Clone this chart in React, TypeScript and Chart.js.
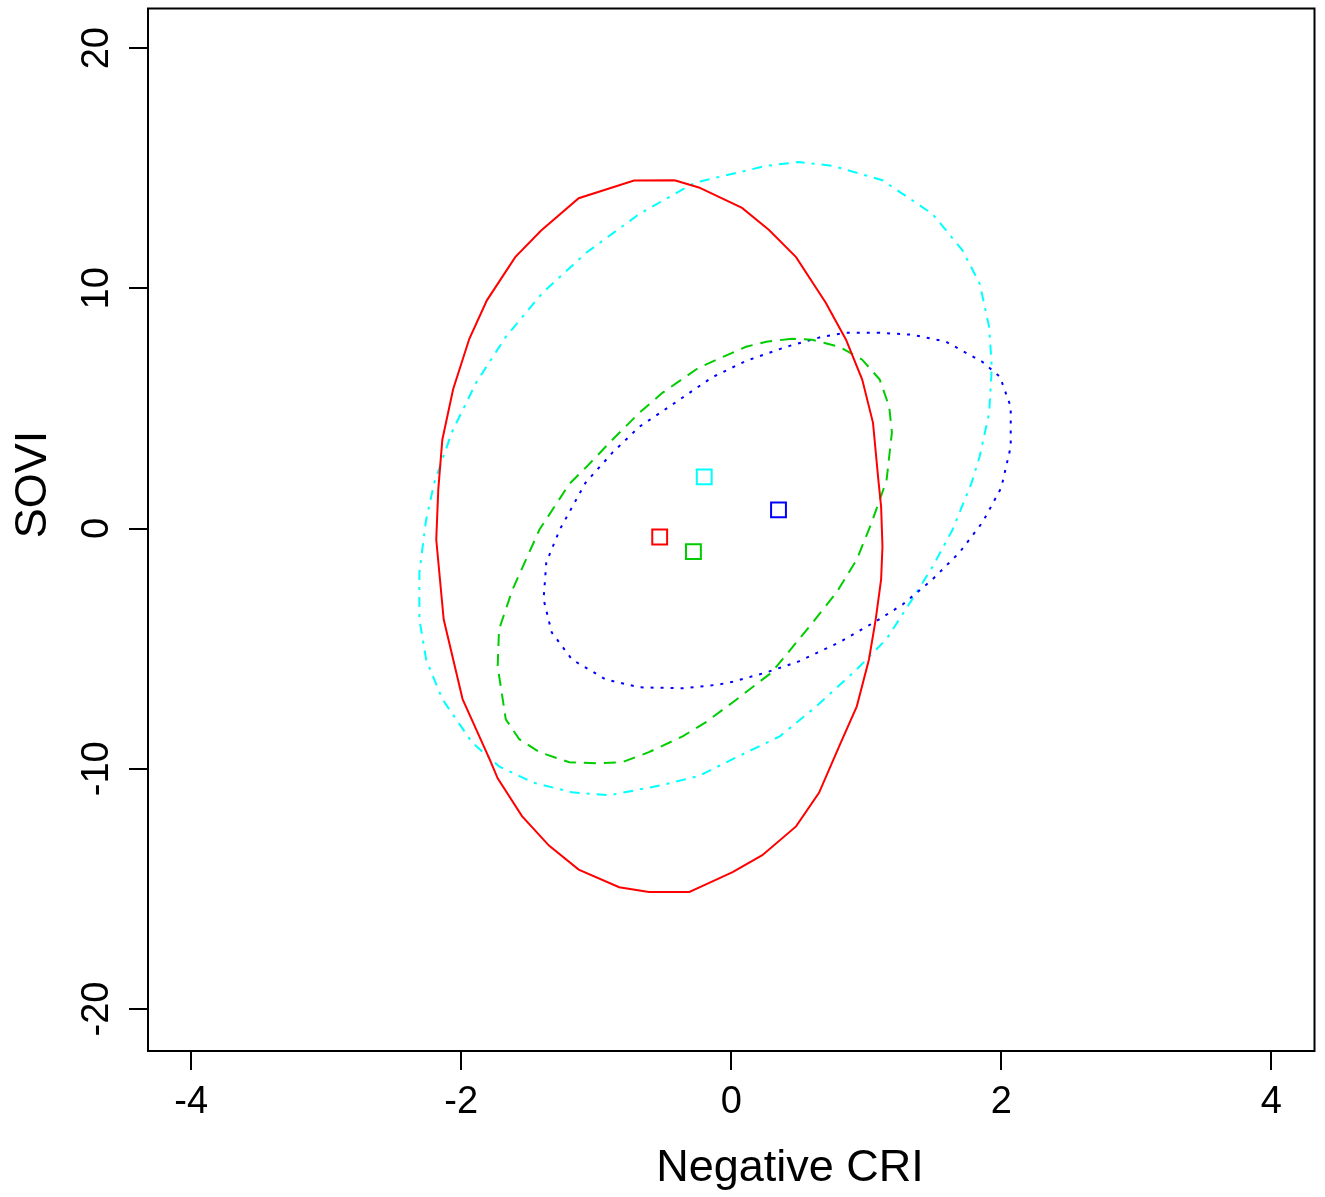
import React, { useEffect, useRef } from "react";
import { Chart, registerables } from "chart.js";

Chart.register(...registerables);

// ---- axis data ----
const xTicks = [-4, -2, 0, 2, 4];
const yTicks = [-20, -10, 0, 10, 20];
const xRange = [-4.32, 4.32];
const yRange = [-21.75, 21.65];
const xTitle = "Negative CRI";
const yTitle = "SOVI";

// ---- ellipse outlines (x, y) ----
const redEllipse = [
  [-0.42, 14.5], [-0.72, 14.49], [-1.13, 13.75], [-1.41, 12.4], [-1.6, 11.3], [-1.81, 9.5],
  [-1.94, 7.9], [-2.06, 5.8], [-2.14, 3.7], [-2.17, 1.62], [-2.185, -0.46], [-2.13, -3.78],
  [-1.99, -7.1], [-1.79, -9.6], [-1.73, -10.4], [-1.55, -11.97], [-1.35, -13.2], [-1.13, -14.2],
  [-0.83, -14.93], [-0.61, -15.13], [-0.31, -15.13], [-0.24, -14.95], [0.01, -14.3], [0.23, -13.6],
  [0.48, -12.4], [0.65, -11.0], [0.8, -9.06], [0.93, -7.4], [1.02, -5.45], [1.07, -3.78],
  [1.11, -2.12], [1.12, -0.75], [1.11, 0.91], [1.09, 2.0], [1.05, 4.4], [0.97, 6.2],
  [0.85, 7.86], [0.7, 9.4], [0.48, 11.3], [0.28, 12.43], [0.08, 13.35], [-0.24, 14.2], [-0.42, 14.5],
];

const greenEllipse = [
  [0.45, 7.9], [0.26, 7.78], [0.11, 7.57], [-0.24, 6.7], [-0.51, 5.65], [-0.68, 4.82],
  [-0.88, 3.7], [-1.07, 2.58], [-1.2, 1.85], [-1.42, -0.04], [-1.62, -2.54], [-1.72, -4.2],
  [-1.73, -5.74], [-1.67, -7.94], [-1.57, -8.77], [-1.42, -9.31], [-1.2, -9.73], [-0.98, -9.77],
  [-0.81, -9.73], [-0.61, -9.31], [-0.36, -8.65], [-0.19, -8.07], [0.01, -7.24], [0.3, -5.99],
  [0.58, -4.07], [0.78, -2.66], [0.93, -1.29], [1.04, 0.25], [1.15, 2.0], [1.19, 4.0],
  [1.17, 5.07], [1.1, 6.2], [0.97, 7.03], [0.8, 7.57], [0.6, 7.86], [0.45, 7.9],
];

const blueEllipse = [
  [1.1, 8.15], [0.85, 8.15], [0.67, 7.98], [0.41, 7.57], [0.11, 6.98], [-0.14, 6.3],
  [-0.46, 5.07], [-0.68, 4.24], [-0.88, 3.16], [-1.08, 1.9], [-1.27, -0.04], [-1.37, -1.41],
  [-1.39, -2.95], [-1.33, -4.32], [-1.18, -5.45], [-0.93, -6.28], [-0.68, -6.61], [-0.36, -6.65],
  [-0.1, -6.5], [0.01, -6.38], [0.26, -5.99], [0.5, -5.53], [0.8, -4.74], [1.07, -3.87],
  [1.27, -3.16], [1.49, -2.12], [1.69, -1.0], [1.86, 0.25], [2.0, 1.7], [2.07, 3.41],
  [2.07, 5.07], [1.99, 6.32], [1.86, 6.94], [1.59, 7.78], [1.34, 8.07], [1.1, 8.15],
];

const cyanEllipse = [
  [0.5, 15.26], [0.26, 15.1], [-0.27, 14.4], [-0.68, 13.1], [-1.07, 11.5], [-1.4, 9.8],
  [-1.67, 7.98], [-1.89, 6.07], [-2.07, 4.0], [-2.2, 1.9], [-2.26, 0.37], [-2.31, -1.83],
  [-2.31, -3.78], [-2.26, -5.45], [-2.14, -7.1], [-1.92, -8.9], [-1.72, -9.9], [-1.47, -10.57],
  [-1.18, -10.98], [-0.9, -11.1], [-0.53, -10.7], [-0.24, -10.3], [0.01, -9.6], [0.36, -8.65],
  [0.63, -7.4], [0.93, -5.86], [1.15, -4.6], [1.34, -2.95], [1.49, -1.6], [1.64, -0.04],
  [1.78, 1.9], [1.84, 3.0], [1.91, 4.8], [1.93, 6.7], [1.91, 8.4], [1.84, 10.2],
  [1.71, 11.6], [1.49, 13.1], [1.12, 14.5], [0.75, 15.1], [0.5, 15.26],
];

// ---- group centres (open squares) ----
const redCenter = [-0.53, -0.35];
const greenCenter = [-0.28, -0.96];
const blueCenter = [0.35, 0.78];
const cyanCenter = [-0.2, 2.15];

const FONT = '"Liberation Sans", Arial, Helvetica, sans-serif';

const toPts = (arr: number[][]) => arr.map(([x, y]) => ({ x, y }));

const frameAndTitles = {
  id: "frameAndTitles",
  afterDraw(chart: any) {
    const { ctx, chartArea: a } = chart;
    ctx.save();
    ctx.strokeStyle = "#000";
    ctx.lineWidth = 2;
    ctx.strokeRect(a.left, a.top, a.right - a.left, a.bottom - a.top);
    ctx.fillStyle = "#000";
    ctx.font = `45px ${FONT}`;
    ctx.textAlign = "center";
    ctx.textBaseline = "alphabetic";
    ctx.fillText(xTitle, a.left + 642, a.bottom + 130);
    ctx.translate(a.left - 102, a.top + 476);
    ctx.rotate(-Math.PI / 2);
    ctx.fillText(yTitle, 0, 0);
    ctx.restore();
  },
};

function lineSet(data: number[][], color: string, dash: number[]) {
  return {
    type: "scatter" as const,
    data: toPts(data),
    showLine: true,
    borderColor: color,
    borderWidth: 2,
    borderDash: dash,
    pointRadius: 0,
    fill: false,
    tension: 0,
  };
}

function centerSet(c: number[], color: string) {
  return {
    type: "scatter" as const,
    data: toPts([c]),
    showLine: false,
    pointStyle: "rect",
    pointRadius: 10.5,
    pointBorderWidth: 2,
    pointBorderColor: color,
    pointBackgroundColor: "rgba(0,0,0,0)",
    borderColor: color,
    backgroundColor: "rgba(0,0,0,0)",
  };
}

const W = 1327;
const H = 1201;

export default function App() {
  const ref = useRef<HTMLCanvasElement | null>(null);

  useEffect(() => {
    if (!ref.current) return;
    const chart = new Chart(ref.current, {
      type: "scatter",
      data: {
        datasets: [
          lineSet(redEllipse, "#FF0000", []),
          lineSet(greenEllipse, "#00CD00", [12, 8]),
          lineSet(blueEllipse, "#0000FF", [3, 7]),
          lineSet(cyanEllipse, "#00FFFF", [3, 7, 10, 7]),
          centerSet(redCenter, "#FF0000"),
          centerSet(greenCenter, "#00CD00"),
          centerSet(blueCenter, "#0000FF"),
          centerSet(cyanCenter, "#00FFFF"),
        ] as any,
      },
      options: {
        animation: false,
        responsive: false,
        maintainAspectRatio: false,
        layout: { padding: { top: 5, right: 8, left: 0, bottom: 0 } },
        plugins: { legend: { display: false }, tooltip: { enabled: false } },
        scales: {
          x: {
            type: "linear",
            min: xRange[0],
            max: xRange[1],
            afterBuildTicks: (s: any) => {
              s.ticks = xTicks.map((v) => ({ value: v }));
            },
            afterFit: (s: any) => {
              s.height = 146;
              s.paddingLeft = 0;
              s.paddingRight = 0;
              s.paddingTop = 0;
              s.paddingBottom = 0;
            },
            border: { display: false },
            grid: {
              display: true,
              drawOnChartArea: false,
              drawTicks: true,
              tickLength: 19,
              color: "#000",
              lineWidth: 2,
            },
            ticks: {
              autoSkip: false,
              maxRotation: 0,
              minRotation: 0,
              padding: 10,
              color: "#000",
              font: { size: 38, family: FONT },
              callback: (v: any) => String(v),
            },
          },
          y: {
            type: "linear",
            min: yRange[0],
            max: yRange[1],
            afterBuildTicks: (s: any) => {
              s.ticks = yTicks.map((v) => ({ value: v }));
            },
            afterFit: (s: any) => {
              s.width = 148;
              s.paddingTop = 0;
              s.paddingBottom = 0;
              s.paddingLeft = 0;
              s.paddingRight = 0;
            },
            border: { display: false },
            grid: {
              display: true,
              drawOnChartArea: false,
              drawTicks: true,
              tickLength: 19,
              color: "#000",
              lineWidth: 2,
            },
            ticks: {
              autoSkip: false,
              minRotation: 90,
              maxRotation: 90,
              crossAlign: "center",
              padding: 4,
              color: "#000",
              font: { size: 38, family: FONT },
              callback: (v: any) => String(v),
            },
          },
        },
      } as any,
      plugins: [frameAndTitles],
    });
    return () => chart.destroy();
  }, []);

  return (
    <div style={{ position: "absolute", left: 0, top: -4, width: W, height: H, background: "#fff" }}>
      <canvas ref={ref} width={W} height={H} style={{ display: "block" }} />
    </div>
  );
}
